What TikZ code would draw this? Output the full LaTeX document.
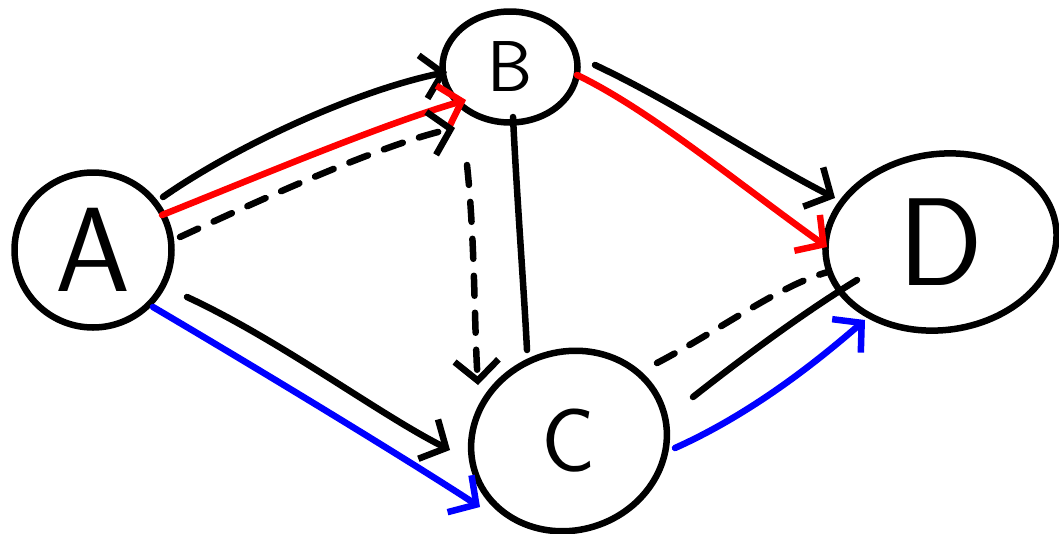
\documentclass[tikz,border=0pt]{standalone}
\usetikzlibrary{arrows.meta,shapes.geometric}
\definecolor{hred}{RGB}{255,0,0}
\definecolor{hblue}{RGB}{0,0,255}
\begin{document}
\begin{tikzpicture}[x=1pt,y=-1pt,
  ink/.style={line width=6.5pt,line cap=round,line join=round},
  nd/.style={ellipse,draw,ink,inner sep=0pt},
  tip/.style={-{Straight Barb[length=20pt,width=44pt]}},
  dsh/.style={dash pattern=on 20pt off 17pt},
  redp/.style={ink,draw=hred},
  bluep/.style={ink,draw=hblue}]
\useasboundingbox (0,0) rectangle (1059,533);

\node[nd,minimum width=157pt,minimum height=155pt,font=\fontsize{120}{120}\selectfont\sffamily] (A) at (93,250) {A};
\node[nd,minimum width=135pt,minimum height=111pt,font=\fontsize{72}{72}\selectfont\sffamily] (B) at (510,67) {B};
\node[nd,minimum width=198pt,minimum height=178pt,rotate=20,font=\fontsize{90}{90}\selectfont\sffamily] (C) at (569,441) {\rotatebox{-20}{C}};
\node[nd,minimum width=232pt,minimum height=176pt,rotate=8,font=\fontsize{125}{125}\selectfont\sffamily] (D) at (941,242) {\rotatebox{-8}{D}};

% A -> B
\draw[ink,tip] ([shift={(70,-53)}]A.center) .. controls (230,150) and (350,92) .. ([shift={(-63,5)}]B.center);
\draw[redp,tip] ([shift={(69,-35)}]A.center) .. controls (250,180) and (380,125) .. ([shift={(-44,33)}]B.center);
\draw[ink,dsh,tip] ([shift={(87,-13)}]A.center) .. controls (260,200) and (380,145) .. ([shift={(-55,61)}]B.center);

% B -> C
\draw[ink,dsh,tip] ([shift={(-43,98)}]B.center) .. controls (475,240) and (474,320) .. ([shift={(-91,-56)}]C.center);
\draw[ink] ([shift={(3,50)}]B.center) .. controls (517,200) and (524,290) .. ([shift={(-42,-91)}]C.center);

% B -> D
\draw[ink,tip] ([shift={(85,-2)}]B.center) .. controls (680,105) and (760,160) .. ([shift={(-106,-44)}]D.center);
\draw[redp,tip] ([shift={(67,8)}]B.center) .. controls (650,110) and (740,185) .. ([shift={(-114,5)}]D.center);

% A -> C
\draw[ink,tip] ([shift={(94,47)}]A.center) .. controls (280,340) and (380,415) .. ([shift={(-119,9)}]C.center);
\draw[bluep,tip] ([shift={(60,57)}]A.center) .. controls (260,370) and (400,455) .. ([shift={(-89,66)}]C.center);

% C -> D
\draw[ink,dsh] ([shift={(88,-78)}]C.center) .. controls (720,330) and (780,285) .. ([shift={(-113,30)}]D.center);
\draw[ink] ([shift={(124,-44)}]C.center) .. controls (740,360) and (800,315) .. ([shift={(-84,38)}]D.center);
\draw[bluep,tip] ([shift={(106,7)}]C.center) .. controls (760,410) and (830,350) .. ([shift={(-76,78)}]D.center);
\end{tikzpicture}
\end{document}
